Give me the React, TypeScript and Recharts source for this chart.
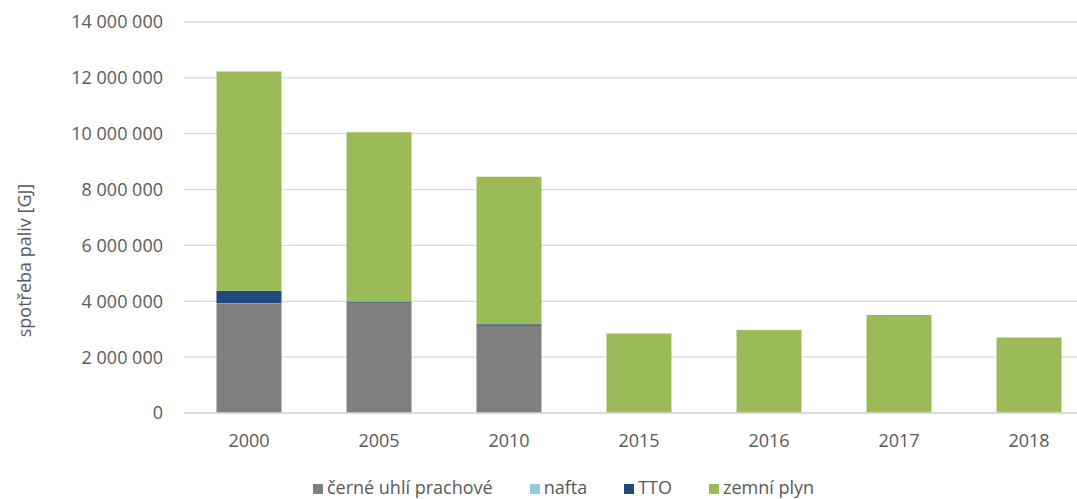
import React from 'react';
import { BarChart, Bar, XAxis, YAxis, CartesianGrid, Legend } from 'recharts';

const years = ['2000', '2005', '2010', '2015', '2016', '2017', '2018'];
const cerneUhli = [3920000, 3940000, 3120000, 0, 0, 0, 0];
const nafta = [8000, 6000, 4000, 0, 0, 0, 0];
const tto = [450000, 45000, 55000, 0, 0, 0, 0];
const zemniPlyn = [7850000, 6060000, 5280000, 2850000, 2970000, 3510000, 2700000];
const yTicks = [0, 2000000, 4000000, 6000000, 8000000, 10000000, 12000000, 14000000];
const seriesNames = ['černé uhlí prachové', 'nafta', 'TTO', 'zemní plyn'];

const data = years.map((y, i) => ({
  year: y,
  cerneUhli: cerneUhli[i],
  nafta: nafta[i],
  tto: tto[i],
  zemniPlyn: zemniPlyn[i],
}));

const fmt = (v: number) => String(v).replace(/\B(?=(\d{3})+(?!\d))/g, ' ');

const FONT = '"Open Sans", sans-serif';
const TXT = '#595959';

const YLabel = (props: any) => {
  const vb = props.viewBox || { x: 0, y: 0, height: 0 };
  const x = 24;
  const y = vb.y + vb.height / 2 + 43;
  return (
    <text
      x={x}
      y={y}
      transform={`rotate(-90, ${x}, ${y})`}
      textAnchor="middle"
      dominantBaseline="central"
      fill={TXT}
      fontSize={18}
      fontFamily={FONT}
    >
      spotřeba paliv [GJ]
    </text>
  );
};

export default function App() {
  return (
    <div style={{ position: 'absolute', left: 0, top: 0, width: 1077, height: 499, overflow: 'hidden', background: '#fff' }}>
      <BarChart
        width={1100}
        height={499}
        data={data}
        margin={{ top: 22, right: 6, left: 0, bottom: 0 }}
        barCategoryGap="25%"
        style={{ fontFamily: FONT }}
      >
        <CartesianGrid vertical={false} stroke="#d9d9d9" strokeWidth={1.3} />
        <XAxis
          dataKey="year"
          height={62}
          tickLine={false}
          axisLine={{ stroke: '#d9d9d9', strokeWidth: 1.3 }}
          tick={{ fill: TXT, fontSize: 18, fontFamily: FONT }}
          tickMargin={15}
        />
        <YAxis
          width={184}
          domain={[0, 14000000]}
          ticks={yTicks}
          tickFormatter={fmt}
          tickLine={false}
          axisLine={false}
          tick={{ fill: TXT, fontSize: 18, fontFamily: FONT }}
          tickMargin={15}
          label={<YLabel />}
        />
        <Legend
          verticalAlign="bottom"
          iconType="square"
          iconSize={10}
          itemSorter={(item: any) => seriesNames.indexOf(item.value)}
          wrapperStyle={{ fontSize: 18, fontFamily: FONT, left: 32, width: 1100 }}
          formatter={(value: string) => <span style={{ color: TXT, marginRight: 27 }}>{value}</span>}
        />
        <Bar dataKey="cerneUhli" name={seriesNames[0]} stackId="a" fill="#7f7f7f" isAnimationActive={false} />
        <Bar dataKey="nafta" name={seriesNames[1]} stackId="a" fill="#92cddc" isAnimationActive={false} />
        <Bar dataKey="tto" name={seriesNames[2]} stackId="a" fill="#1f497d" isAnimationActive={false} />
        <Bar dataKey="zemniPlyn" name={seriesNames[3]} stackId="a" fill="#9bbb59" isAnimationActive={false} />
      </BarChart>
    </div>
  );
}
